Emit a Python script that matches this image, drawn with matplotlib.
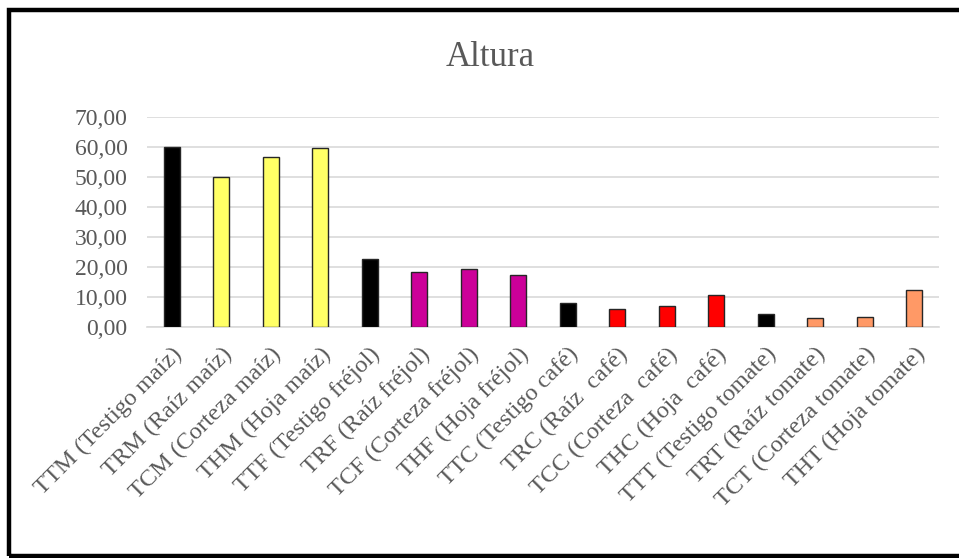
import matplotlib
matplotlib.use("Agg")
import matplotlib.pyplot as plt
from matplotlib.patches import Rectangle

categories = [
    "TTM (Testigo maíz)", "TRM (Raíz maíz)", "TCM (Corteza maíz)", "THM (Hoja maíz)",
    "TTF (Testigo fréjol)", "TRF (Raíz fréjol)", "TCF (Corteza fréjol)", "THF (Hoja fréjol)",
    "TTC (Testigo café)", "TRC (Raíz  café)", "TCC (Corteza  café)", "THC (Hoja  café)",
    "TTT (Testigo tomate)", "TRT (Raíz tomate)", "TCT (Corteza tomate)", "THT (Hoja tomate)",
]
altura = [60.0, 50.0, 56.5, 59.8,
          22.8, 18.2, 19.2, 17.3,
          8.1, 6.0, 7.0, 10.8,
          4.5, 3.0, 3.4, 12.2]
bar_colors = ["#000000", "#FFFF66", "#FFFF66", "#FFFF66",
              "#000000", "#CC0099", "#CC0099", "#CC0099",
              "#000000", "#FF0000", "#FF0000", "#FF0000",
              "#000000", "#FF9966", "#FF9966", "#FF9966"]
yticks = [0, 10, 20, 30, 40, 50, 60, 70]

plt.rcParams["font.family"] = ["Liberation Serif", "DejaVu Serif"]
text_gray = "#595959"

fig = plt.figure(figsize=(9.59, 5.58), dpi=100)
fig.patch.set_facecolor("white")

# outer frame (left, top and bottom edges visible)
fig.patches.append(Rectangle((9 / 959, 2.5 / 558), 1.2, 546 / 558,
                             transform=fig.transFigure, fill=False,
                             edgecolor="black", linewidth=3.2, zorder=10))

ax = fig.add_axes([147 / 959, 1 - 327 / 558, (939 - 147) / 959, 210 / 558])
x = list(range(len(categories)))
ax.bar(x, altura, width=0.33, color=bar_colors, edgecolor="#262626",
       linewidth=1.0, zorder=3)

ax.set_xlim(-0.5, len(categories) - 0.5)
ax.set_ylim(0, 70)
ax.set_yticks(yticks)
ax.set_yticklabels([f"{v:.2f}".replace(".", ",") for v in yticks],
                   fontsize=17, color=text_gray)
ax.yaxis.grid(True, color="#d9d9d9", linewidth=1.2, zorder=0)
ax.set_axisbelow(True)
for s in ["top", "right", "left"]:
    ax.spines[s].set_visible(False)
ax.spines["bottom"].set_color("#d9d9d9")
ax.spines["bottom"].set_linewidth(1.2)
ax.tick_params(axis="both", length=0)
ax.tick_params(axis="y", pad=14)

ax.set_xticks(x)
ax.set_xticklabels(categories, rotation=45, ha="right", rotation_mode="anchor",
                   fontsize=17.5, color=text_gray)
ax.tick_params(axis="x", pad=12)

fig.text(490 / 959, 1 - 57 / 558, "Altura", ha="center", va="center",
         fontsize=25, color=text_gray)

fig.savefig("out.png", dpi=100, facecolor="white")
